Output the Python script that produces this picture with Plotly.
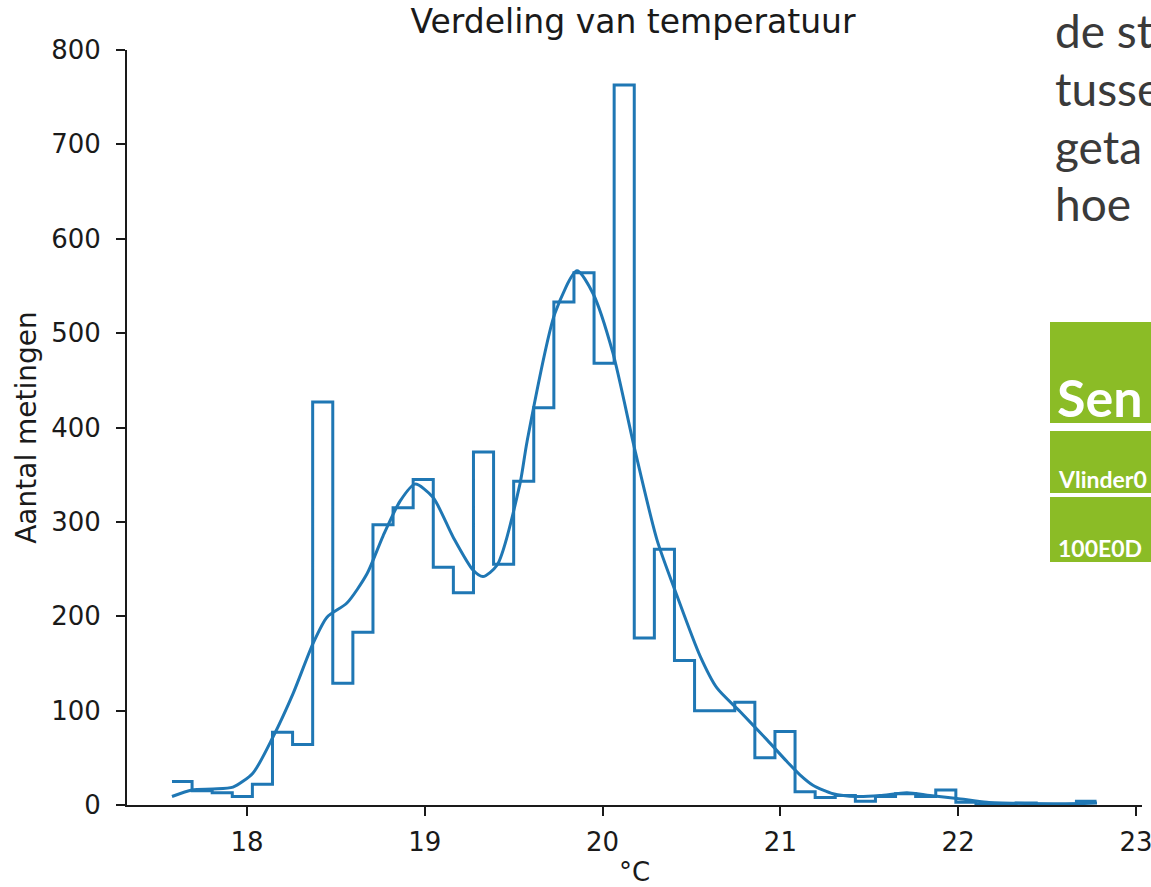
import numpy as np
import plotly.graph_objects as go

# ---- data ----
bin_start = 17.578
bin_width = 0.11305
counts = [25, 15, 13, 9, 22, 77, 64, 427, 129, 183,
          297, 315, 345, 252, 225, 374, 255, 343, 421, 533,
          564, 468, 763, 177, 271, 153, 100, 100, 109, 50,
          78, 14, 8, 10, 4, 9, 12, 9, 16, 3,
          1, 1, 2, 1, 1, 4]

kde_x = [17.578, 17.691, 17.809, 17.921, 18.034, 18.146, 18.259, 18.371, 18.450, 18.562,
         18.675, 18.765, 18.861, 18.945, 19.046, 19.159, 19.271, 19.327, 19.406, 19.535,
         19.575, 19.732, 19.856, 19.946, 20.058, 20.182, 20.306, 20.418, 20.548, 20.643,
         20.773, 20.925, 21.037, 21.110, 21.183, 21.296, 21.431, 21.560, 21.712, 21.841,
         21.993, 22.162, 22.404, 22.573, 22.781]
kde_y = [9, 16, 17, 19, 34, 72, 118, 171, 199, 214,
         245, 285, 322, 340, 326, 284, 249, 242, 254, 340,
         385, 521, 566, 542, 479, 376, 281, 222, 158, 124,
         99, 69, 46, 32, 21, 12, 9, 10, 13, 10,
         7, 3, 1.5, 1, 2]

y_ticks = [0, 100, 200, 300, 400, 500, 600, 700, 800]
x_ticks = [18, 19, 20, 21, 22, 23]

title_text = "Verdeling van temperatuur"
x_label = "°C"
y_label = "Aantal metingen"

side_lines = ["de st", "tusse", "geta", "hoe"]
box_texts = ["Sen", "Vlinder0", "100E0D"]

# ---- figure ----
W, H = 1151, 887
L, R, T, B = 127, 9, 50, 82
BLUE = "#1f77b4"
GREEN = "#8bbc26"
INK = "#1a1a1a"


def px_x(p):
    return (p - L) / (W - L - R)


def px_y(p):
    return (H - B - p) / (H - B - T)


edges = bin_start + bin_width * np.arange(len(counts) + 1)
step_x = list(edges)
step_y = list(counts) + [counts[-1]]

fig = go.Figure()
fig.add_trace(go.Scatter(x=step_x, y=step_y, mode="lines", line_shape="hv",
                         line=dict(color=BLUE, width=3), hoverinfo="skip",
                         showlegend=False))
fig.add_trace(go.Scatter(x=kde_x, y=kde_y, mode="lines", line_shape="spline",
                         line=dict(color=BLUE, width=3, smoothing=0.7),
                         hoverinfo="skip", showlegend=False))

axis_font = dict(family="DejaVu Sans", size=26, color=INK)

fig.update_layout(
    width=W, height=H,
    margin=dict(l=L, r=R, t=T, b=B, pad=0, autoexpand=False),
    paper_bgcolor="white", plot_bgcolor="white",
    title=dict(text=title_text, x=633 / W,
               xanchor="center", y=1 - 21 / H, yanchor="middle",
               font=dict(family="DejaVu Sans", size=33, color=INK)),
    xaxis=dict(range=[17.325, 23.034], tickvals=x_ticks, automargin=False,
               ticks="outside", ticklen=9, tickwidth=1.6, tickcolor=INK,
               showline=True, linecolor=INK, linewidth=1.8,
               showgrid=False, zeroline=False, tickfont=axis_font,
               ticklabelstandoff=4, ticklabeloverflow="allow",
               title=dict(text=x_label, standoff=18,
                          font=dict(family="DejaVu Sans", size=26, color=INK))),
    yaxis=dict(range=[0, 800], tickvals=y_ticks, automargin=False,
               ticks="outside", ticklen=9, tickwidth=1.6, tickcolor=INK,
               showline=True, linecolor=INK, linewidth=1.8,
               showgrid=False, zeroline=False, tickfont=axis_font,
               ticklabelstandoff=10,
               title=dict(text=y_label, standoff=6,
                          font=dict(family="DejaVu Sans", size=28, color=INK))),
)

# ---- web page elements on the right side ----
shapes = []
for (y0, y1) in [(322, 423), (431, 493), (497, 562)]:
    shapes.append(dict(type="rect", xref="paper", yref="paper",
                       x0=px_x(1050), x1=px_x(1165), y0=px_y(y1), y1=px_y(y0),
                       fillcolor=GREEN, line=dict(width=0), layer="above"))
fig.update_layout(shapes=shapes)

annos = []
for i, t in enumerate(side_lines):
    annos.append(dict(text=t, xref="paper", yref="paper", x=px_x(1053),
                      y=px_y(31 + i * 57.5), xanchor="left", yanchor="middle",
                      showarrow=False, align="left",
                      font=dict(family="Lato", size=46, color="#3a3a3a")))
annos.append(dict(text="<b>" + box_texts[0] + "</b>", xref="paper", yref="paper",
                  x=px_x(1055), y=px_y(397), xanchor="left", yanchor="middle",
                  showarrow=False, font=dict(family="Lato", size=52, color="white")))
annos.append(dict(text="<b>" + box_texts[1] + "</b>", xref="paper", yref="paper",
                  x=px_x(1056), y=px_y(479), xanchor="left", yanchor="middle",
                  showarrow=False, font=dict(family="Lato", size=23, color="white")))
annos.append(dict(text="<b>" + box_texts[2] + "</b>", xref="paper", yref="paper",
                  x=px_x(1056), y=px_y(548), xanchor="left", yanchor="middle",
                  showarrow=False, font=dict(family="Lato", size=23, color="white")))
fig.update_layout(annotations=annos)

fig.write_html("out.html")
